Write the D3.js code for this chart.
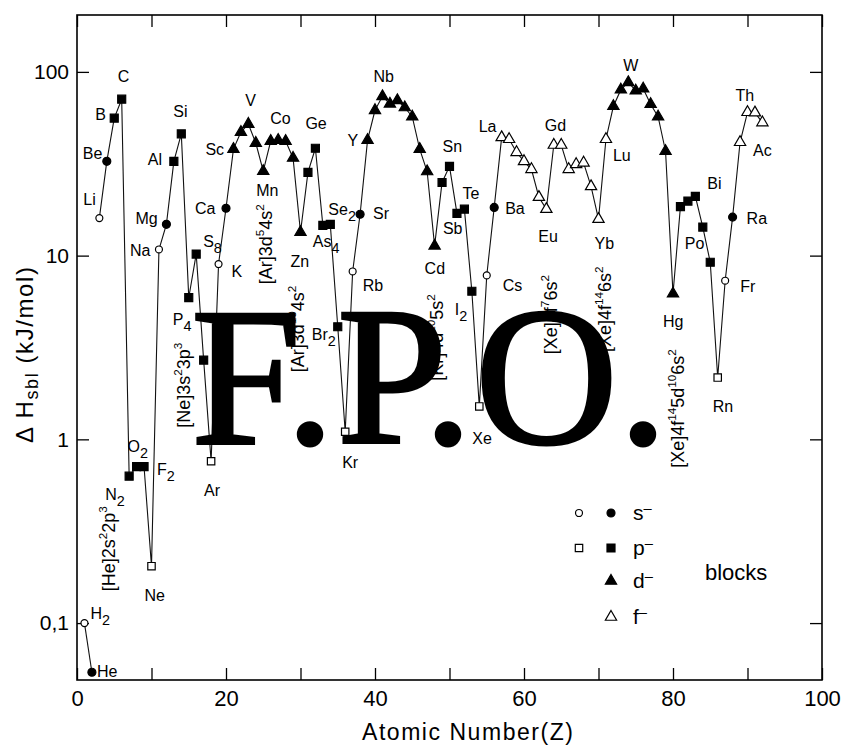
<!DOCTYPE html>
<html>
<head>
<meta charset="utf-8">
<script src="https://cdn.jsdelivr.net/npm/d3@7"></script>
<style>
  body { margin: 0; background: #fff; }
  svg text { font-family: "Liberation Sans", Arial, sans-serif; fill: #000; }
</style>
</head>
<body>
<div id="svg-container"></div>
<script>
////////////////////////////////////////////////////////////////////
////////////////////////////  Data  ////////////////////////////////
const symbols = ["H","He","Li","Be","B","C","N","O","F","Ne","Na","Mg","Al","Si","P","S","Cl","Ar",
  "K","Ca","Sc","Ti","V","Cr","Mn","Fe","Co","Ni","Cu","Zn","Ga","Ge","As","Se","Br","Kr",
  "Rb","Sr","Y","Zr","Nb","Mo","Tc","Ru","Rh","Pd","Ag","Cd","In","Sn","Sb","Te","I","Xe",
  "Cs","Ba","La","Ce","Pr","Nd","Pm","Sm","Eu","Gd","Tb","Dy","Ho","Er","Tm","Yb","Lu",
  "Hf","Ta","W","Re","Os","Ir","Pt","Au","Hg","Tl","Pb","Bi","Po","At","Rn","Fr","Ra","Ac","Th","Pa","U"];

// ΔHsbl (kJ/mol), Z = 1..92
const dHsbl = [0.10,0.054,16,32.6,56,71,0.63,0.71,0.71,0.204,
  10.8,14.8,32.6,46,5.9,10.2,2.7,0.76,
  9.0,18.1,38,47,52,41,28.8,42,42.5,42,34,13.4,28.4,38.4,14.6,14.8,4.1,1.1,
  8.2,16.8,42.5,61.8,73.6,67,70,64,57,38,28.7,11.3,25,30.6,17,17.9,6.4,1.51,
  7.8,18.3,44,43,36.5,32.6,29.5,20.8,17.9,40,40,29.5,31.4,32,23.8,15.8,43,
  65,80,87.7,79,81,66.7,57,37,6.2,18.5,19.8,21,14.3,9.2,2.17,
  7.3,16.2,41.4,60.3,60,53];

// marker kind per element: o/c = s open/filled, q/s = p open/filled, t = d, u = f
const kinds = "ococsssssqocsssssqoc" + "tttttttttt" + "sssssqoc" + "tttttttttt" + "sssssqoc" +
  "uuuuuuuuuuuuuuu" + "ttttttttt" + "sssssqoc" + "uuuu";

// connected runs of Z
const segments = [[1, 2], [3, 92]];

const xTicks = [0, 10, 20, 30, 40, 50, 60, 70, 80, 90, 100];
const yTicks = [0.1, 1, 10, 100];

// element labels: [text, subscript, Z, dx, dy]
const labels = [
  ["H","2",1,6,-4],["He","",2,5,5],["Li","",3,-16,-13],["Be","",4,-24,-2],["B","",5,-19,2],
  ["C","",6,-4,-17],["N","2",7,-24,24],["O","2",8,-9,-15],["F","2",9,13,8],["Ne","",10,-7,35],
  ["Na","",11,-29,7],["Mg","",12,-31,0],["Al","",13,-26,4],["Si","",14,-8,-17],["P","4",15,-16,27],
  ["S","8",16,7,-7],["Ar","",18,-7,35],["K","",19,13,13],["Ca","",20,-31,6],["Sc","",21,-28,6],
  ["V","",23,-3,-18],["Mn","",25,-7,25],["Co","",27,-8,-16],["Zn","",30,-10,35],["Ge","",32,-10,-19],
  ["As","4",33,-10,22],["Se","2",34,-2,-9],["Br","2",35,-26,13],["Kr","",36,-3,36],["Rb","",37,10,20],
  ["Sr","",38,13,5],["Y","",39,-20,6],["Nb","",41,-9,-14],["Cd","",48,-10,28],["Sn","",50,-7,-14],
  ["Sb","",51,-14,21],["Te","",52,-2,-10],["I","2",53,-17,24],["Xe","",54,-7,38],["Cs","",55,16,16],
  ["Ba","",56,11,7],["La","",57,-23,-5],["Eu","",63,-8,33],["Gd","",64,-9,-14],["Yb","",70,-4,30],
  ["Lu","",71,7,22],["W","",74,-5,-11],["Hg","",80,-10,33],["Bi","",83,12,-7],["Po","",84,-18,22],
  ["Rn","",86,-5,34],["Fr","",87,15,11],["Ra","",88,14,7],["Ac","",89,13,14],["Th","",90,-12,-11]
];

// electron configurations (rotated): [Z, text with ^sup^, dx, dy]
const configs = [
  [7, "[He]2s^2^2p^3", -14, 115],
  [15, "[Ne]3s^2^3p^3", 1, 130],
  [25, "[Ar]3d^5^4s^2", 9, 113],
  [30, "[Ar]3d^10^4s^2", 3, 140],
  [48, "[Kr]4d^10^5s^2", 8, 135],
  [63, "[Xe]4f^7^6s^2", 11, 145],
  [70, "[Xe]4f^14^6s^2", 12, 133],
  [80, "[Xe]4f^14^5d^10^6s^2", 11, 174]
];

const legendRows = [["s", "o", "c"], ["p", "q", "s"], ["d", null, "t"], ["f", null, "u"]];

const data = symbols.map((s, i) => ({ sym: s, z: i + 1, v: dHsbl[i], kind: kinds[i] }));

////////////////////////////////////////////////////////////////////
////////////////////////////  Init  ////////////////////////////////
const width = 841, height = 745;
const margin = { top: 15, right: 19, bottom: 65, left: 77 };

const svg = d3.select("#svg-container").append("svg")
  .attr("width", width).attr("height", height)
  .style("background", "#fff");

const xScale = d3.scaleLinear().domain([0, 100]).range([margin.left, width - margin.right]);
const yScale = d3.scaleLog().domain([0.049, 204]).range([height - margin.bottom, margin.top]);

const symType = { o: d3.symbolCircle, c: d3.symbolCircle, q: d3.symbolSquare, s: d3.symbolSquare, t: d3.symbolTriangle, u: d3.symbolTriangle };
const symSize = { o: 38, c: 50, q: 55, s: 64, t: 55, u: 55 };
const isOpen = (k) => k === "o" || k === "q" || k === "u";

// axes (ticks inward)
const tick = 12;
const gx = svg.append("g").attr("transform", `translate(0,${height - margin.bottom})`)
  .call(d3.axisBottom(xScale).tickValues(xTicks).tickSize(-tick).tickPadding(10)
    .tickFormat((d) => (d % 20 === 0 ? d : "")));
svg.append("g").attr("transform", `translate(0,${margin.top})`)
  .call(d3.axisTop(xScale).tickValues(xTicks).tickSize(-tick).tickFormat(""));
const gy = svg.append("g").attr("transform", `translate(${margin.left},0)`)
  .call(d3.axisLeft(yScale).tickValues(yTicks).tickSize(-tick).tickPadding(8)
    .tickFormat((d) => (d === 0.1 ? "0,1" : d)));
svg.append("g").attr("transform", `translate(${width - margin.right},0)`)
  .call(d3.axisRight(yScale).tickValues(yTicks).tickSize(-tick).tickFormat(""));

svg.selectAll(".domain").remove();
svg.selectAll(".tick line").attr("stroke", "#000").attr("stroke-width", 1.3);
gx.selectAll("text").attr("font-size", 22).attr("font-family", "Liberation Sans, Arial, sans-serif");
gy.selectAll("text").attr("font-size", 21).attr("font-family", "Liberation Sans, Arial, sans-serif");

svg.append("rect")
  .attr("x", margin.left).attr("y", margin.top)
  .attr("width", width - margin.left - margin.right)
  .attr("height", height - margin.top - margin.bottom)
  .attr("fill", "none").attr("stroke", "#000").attr("stroke-width", 1.6);

// axis titles
svg.append("text")
  .attr("x", 362).attr("y", 740)
  .attr("font-size", 23).attr("textLength", 211).attr("lengthAdjust", "spacing")
  .text("Atomic  Number(Z)");

const yTitle = svg.append("text")
  .attr("transform", "translate(33,443) rotate(-90)")
  .attr("font-size", 24).attr("textLength", 176).attr("lengthAdjust", "spacing");
yTitle.append("tspan").text("Δ H");
yTitle.append("tspan").attr("font-size", "0.75em").attr("dy", 5).text("sbl");
yTitle.append("tspan").attr("dy", -5).text("  (kJ/mol)");

////////////////////////////////////////////////////////////////////
////////////////////////////  Lines & markers  /////////////////////
const line = d3.line().x((d) => xScale(d.z)).y((d) => yScale(d.v));

svg.selectAll(".seg")
  .data(segments)
  .enter()
  .append("path")
  .attr("class", "seg")
  .attr("d", (s) => line(data.filter((d) => d.z >= s[0] && d.z <= s[1])))
  .attr("fill", "none").attr("stroke", "#111").attr("stroke-width", 1.1);

svg.selectAll(".pt")
  .data(data)
  .enter()
  .append("path")
  .attr("class", "pt")
  .attr("transform", (d) => `translate(${xScale(d.z)},${yScale(d.v)})`)
  .attr("d", (d) => d3.symbol().type(symType[d.kind]).size(symSize[d.kind])())
  .attr("fill", (d) => (isOpen(d.kind) ? "#fff" : "#000"))
  .attr("stroke", "#000").attr("stroke-width", 1.2);

////////////////////////////////////////////////////////////////////
////////////////////////////  Labels  //////////////////////////////
const byZ = (z) => data[z - 1];

const lab = svg.selectAll(".lab")
  .data(labels)
  .enter()
  .append("text")
  .attr("class", "lab")
  .attr("font-size", 16)
  .attr("x", (d) => xScale(byZ(d[2]).z) + d[3])
  .attr("y", (d) => yScale(byZ(d[2]).v) + d[4]);
lab.append("tspan").text((d) => d[0]);
lab.filter((d) => d[1]).append("tspan").attr("font-size", "0.9em").attr("dy", 6).text((d) => d[1]);

function richText(sel, str, shift) {
  let up = false;
  str.split("^").forEach((part, i) => {
    const sup = i % 2 === 1;
    if (!part) return;
    let dy = 0;
    if (sup && !up) { dy = -shift; up = true; }
    if (!sup && up) { dy = shift; up = false; }
    sel.append("tspan").attr("font-size", sup ? "0.65em" : null).attr("dy", dy).text(part);
  });
}

configs.forEach((c) => {
  const p = byZ(c[0]);
  const t = svg.append("text")
    .attr("font-size", 18)
    .attr("transform", `translate(${xScale(p.z) + c[2]},${yScale(p.v) + c[3]}) rotate(-90)`);
  richText(t, c[1], 8);
});

////////////////////////////////////////////////////////////////////
////////////////////////////  Legend  //////////////////////////////
const legY = [513, 548, 581, 617];
legendRows.forEach((r, i) => {
  [[r[1], 579], [r[2], 611]].forEach(([k, x]) => {
    if (!k) return;
    svg.append("path")
      .attr("transform", `translate(${x},${legY[i]})`)
      .attr("d", d3.symbol().type(symType[k]).size(symSize[k])())
      .attr("fill", isOpen(k) ? "#fff" : "#000")
      .attr("stroke", "#000").attr("stroke-width", 1.2);
  });
  const t = svg.append("text").attr("x", 633).attr("y", legY[i] + 7).attr("font-size", 21);
  t.append("tspan").text(r[0]);
  t.append("tspan").attr("font-size", "0.7em").attr("dy", -7).text("–");
});
svg.append("text").attr("x", 705).attr("y", 580).attr("font-size", 22).text("blocks");

////////////////////////////////////////////////////////////////////
////////////////////////////  F.P.O. stamp  ////////////////////////
const fpo = [["F", 191, "start"], [".", 310, "middle"], ["P", 337, "start"],
  [".", 448, "middle"], ["O", 475, "start"], [".", 643, "middle"]];
svg.selectAll(".fpo")
  .data(fpo)
  .enter()
  .append("text")
  .attr("class", "fpo")
  .attr("x", (d) => d[1]).attr("y", 443)
  .attr("text-anchor", (d) => d[2])
  .style("font-family", "'Liberation Serif', 'Times New Roman', serif")
  .attr("font-size", 198)
  .attr("stroke", "#000").attr("stroke-width", 3)
  .text((d) => d[0]);
</script>
</body>
</html>
